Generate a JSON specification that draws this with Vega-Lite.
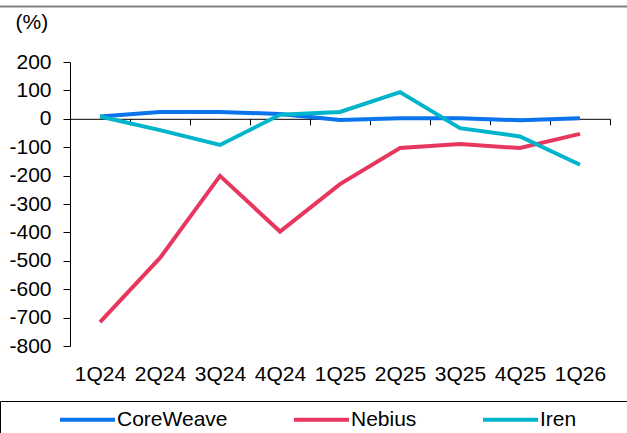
{
  "$schema": "https://vega.github.io/schema/vega-lite/v6.json",
  "width": 540,
  "height": 284,
  "autosize": {"type": "none"},
  "padding": {"left": 70, "top": 62, "right": 17, "bottom": 87},
  "background": "white",
  "config": {
    "view": {"stroke": null},
    "font": "Liberation Sans",
    "axis": {"labelFont": "Liberation Sans", "titleFont": "Liberation Sans", "grid": false},
    "legend": {"labelFont": "Liberation Sans", "titleFont": "Liberation Sans"}
  },
  "resolve": {"scale": {"x": "independent"}, "axis": {"x": "independent"}},
  "layer": [
    {
      "data": {"values": [{"line": "top"}]},
      "mark": {"type": "rule", "color": "#808080", "strokeWidth": 2},
      "encoding": {
        "y": {
          "datum": 395,
          "type": "quantitative",
          "axis": {
            "values": [-800, -700, -600, -500, -400, -300, -200, -100, 0, 100, 200],
            "tickCount": 11,
            "labelOverlap": false,
            "labelExpr": "'' + datum.value",
            "labelFontSize": 21,
            "labelColor": "black",
            "labelPadding": 12,
            "tickSize": 7,
            "tickColor": "black",
            "domainColor": "black",
            "title": "(%)",
            "titleAngle": 0,
            "titleAlign": "left",
            "titleBaseline": "middle",
            "titleX": -55,
            "titleY": -40,
            "titleFontSize": 21,
            "titleFontWeight": "normal",
            "titleColor": "black"
          }
        },
        "x": {"datum": -0.1296, "type": "quantitative", "scale": {"domain": [0, 1], "nice": false, "zero": false}, "axis": null},
        "x2": {"datum": 1.0315}
      }
    },
    {
      "data": {
        "values": [
          {"quarter": "1Q24", "company": "CoreWeave", "value": 8},
          {"quarter": "2Q24", "company": "CoreWeave", "value": 24},
          {"quarter": "3Q24", "company": "CoreWeave", "value": 24},
          {"quarter": "4Q24", "company": "CoreWeave", "value": 17},
          {"quarter": "1Q25", "company": "CoreWeave", "value": -4},
          {"quarter": "2Q25", "company": "CoreWeave", "value": 2},
          {"quarter": "3Q25", "company": "CoreWeave", "value": 2},
          {"quarter": "4Q25", "company": "CoreWeave", "value": -5},
          {"quarter": "1Q26", "company": "CoreWeave", "value": 2},
          {"quarter": "1Q24", "company": "Nebius", "value": -716},
          {"quarter": "2Q24", "company": "Nebius", "value": -490},
          {"quarter": "3Q24", "company": "Nebius", "value": -201},
          {"quarter": "4Q24", "company": "Nebius", "value": -397},
          {"quarter": "1Q25", "company": "Nebius", "value": -230},
          {"quarter": "2Q25", "company": "Nebius", "value": -103},
          {"quarter": "3Q25", "company": "Nebius", "value": -89},
          {"quarter": "4Q25", "company": "Nebius", "value": -103},
          {"quarter": "1Q26", "company": "Nebius", "value": -53},
          {"quarter": "1Q24", "company": "Iren", "value": 8},
          {"quarter": "2Q24", "company": "Iren", "value": -40},
          {"quarter": "3Q24", "company": "Iren", "value": -92},
          {"quarter": "4Q24", "company": "Iren", "value": 14},
          {"quarter": "1Q25", "company": "Iren", "value": 24},
          {"quarter": "2Q25", "company": "Iren", "value": 94},
          {"quarter": "3Q25", "company": "Iren", "value": -33},
          {"quarter": "4Q25", "company": "Iren", "value": -62},
          {"quarter": "1Q26", "company": "Iren", "value": -162}
        ]
      },
      "mark": {"type": "line", "strokeWidth": 4},
      "encoding": {
        "x": {
          "field": "quarter",
          "type": "ordinal",
          "sort": null,
          "scale": {"type": "band", "paddingInner": 0, "paddingOuter": 0},
          "axis": {
            "orient": "bottom",
            "offset": -227.2,
            "title": null,
            "labelAngle": 0,
            "labelFontSize": 21,
            "labelColor": "black",
            "labelPadding": 239,
            "domainColor": "black",
            "tickColor": "black",
            "tickSize": 6,
            "tickBand": "extent"
          }
        },
        "y": {
          "field": "value",
          "type": "quantitative",
          "scale": {"domain": [-800, 200], "nice": false, "zero": false},
          "axis": {
            "values": [-800, -700, -600, -500, -400, -300, -200, -100, 0, 100, 200],
            "tickCount": 11,
            "labelOverlap": false,
            "labelExpr": "'' + datum.value",
            "labelFontSize": 21,
            "labelColor": "black",
            "labelPadding": 12,
            "tickSize": 7,
            "tickColor": "black",
            "domainColor": "black",
            "title": "(%)",
            "titleAngle": 0,
            "titleAlign": "left",
            "titleBaseline": "middle",
            "titleX": -55,
            "titleY": -40,
            "titleFontSize": 21,
            "titleFontWeight": "normal",
            "titleColor": "black"
          }
        },
        "color": {
          "field": "company",
          "type": "nominal",
          "scale": {"domain": ["CoreWeave", "Nebius", "Iren"], "range": ["#0a74ec", "#e8375f", "#00b4cc"]},
          "legend": {
            "orient": "none",
            "legendX": -70,
            "legendY": 339,
            "direction": "horizontal",
            "strokeColor": "black",
            "padding": 8,
            "title": " ",
            "titleOrient": "left",
            "titleFontSize": 1,
            "titlePadding": 47,
            "labelFontSize": 21,
            "labelColor": "black",
            "labelOffset": 19,
            "labelExpr": "datum.label == 'Iren' ? 'Iren\u2800\u2800\u2800' : datum.label",
            "columnPadding": 58,
            "symbolType": "M-5,0L5,0",
            "symbolSize": 121,
            "symbolOffset": 22,
            "symbolStrokeWidth": 4
          }
        }
      }
    }
  ]
}
